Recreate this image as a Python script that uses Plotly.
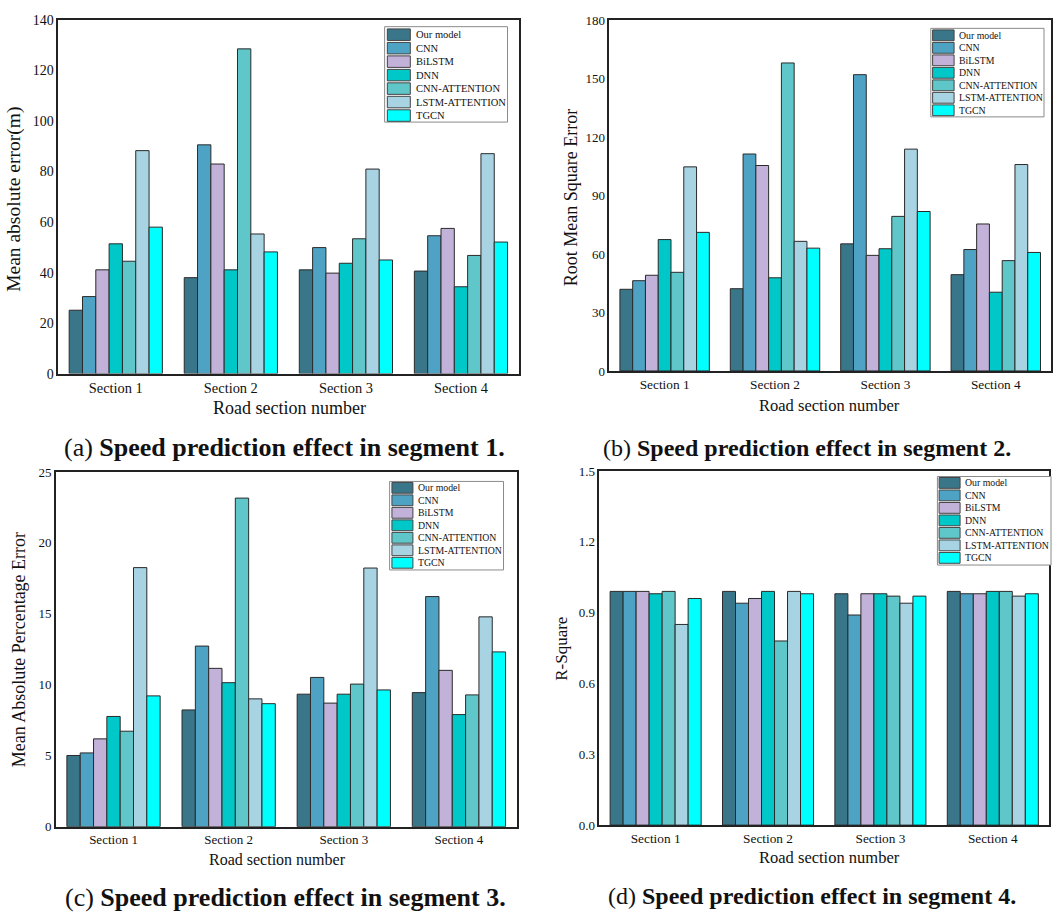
import plotly.graph_objects as go
from plotly.subplots import make_subplots

# ---------------- data ----------------
sections = ["Section 1", "Section 2", "Section 3", "Section 4"]
models = ["Our model", "CNN", "BiLSTM", "DNN", "CNN-ATTENTION", "LSTM-ATTENTION", "TGCN"]
colors = ["#3a7689", "#4ea3c5", "#c2b1d8", "#01c8c8", "#5fc7c9", "#a7d3e3", "#00ffff"]

# Mean absolute error (rows = models, cols = sections)
mae = [
    [25.1, 38.0, 41.1, 40.6],
    [30.5, 90.6, 49.9, 54.6],
    [41.1, 83.0, 39.8, 57.5],
    [51.4, 41.1, 43.7, 34.4],
    [44.5, 128.6, 53.4, 46.8],
    [88.3, 55.3, 81.0, 87.1],
    [58.0, 48.2, 45.0, 52.1],
]
# Root mean square error
rmse = [
    [41.9, 42.2, 65.2, 49.4],
    [46.3, 111.3, 152.0, 62.3],
    [49.1, 105.4, 59.3, 75.4],
    [67.4, 47.8, 62.7, 40.4],
    [50.6, 158.0, 79.3, 56.6],
    [104.7, 66.5, 113.8, 105.9],
    [71.1, 63.0, 81.8, 60.8],
]
# Mean absolute percentage error
mape = [
    [5.02, 8.23, 9.34, 9.45],
    [5.20, 12.73, 10.52, 16.22],
    [6.19, 11.16, 8.71, 11.02],
    [7.77, 10.15, 9.34, 7.90],
    [6.73, 23.16, 10.05, 9.29],
    [18.26, 9.01, 18.23, 14.79],
    [9.22, 8.67, 9.64, 12.32],
]
# R-Square
r2 = [
    [0.99, 0.99, 0.98, 0.99],
    [0.99, 0.94, 0.89, 0.98],
    [0.99, 0.96, 0.98, 0.98],
    [0.98, 0.99, 0.98, 0.99],
    [0.99, 0.78, 0.97, 0.99],
    [0.85, 0.99, 0.94, 0.97],
    [0.96, 0.98, 0.97, 0.98],
]

y_titles = ["Mean absolute error(m)", "Root Mean Square Error",
            "Mean Absolute Percentage Error", "R-Square"]
x_title = "Road section number"
captions = [("(a) ", "Speed prediction effect in segment 1."),
            ("(b) ", "Speed prediction effect in segment 2."),
            ("(c) ", "Speed prediction effect in segment 3."),
            ("(d) ", "Speed prediction effect in segment 4.")]
y_ranges = [(0, 140), (0, 180), (0, 25), (0, 1.5)]
y_dticks = [20, 30, 5, 0.3]
y_formats = ["", "", "", ".1f"]

# ---------------- layout helpers (pixel geometry) ----------------
W, H = 1053, 919
FONT = "Liberation Serif, Times New Roman, serif"


def fx(px):
    return px / W


def fy(py):
    return 1 - py / H


# plot areas: (left, top, right, bottom) in pixels
areas = [(58.3, 13.3, 519, 372.7), (610, 13.3, 1052, 370),
         (56, 472.7, 517, 833.3), (600, 471.7, 1050, 831.7)]
tick_sizes = [14, 13, 13, 13]
sec_sizes = [14.4, 13.3, 13, 13.3]
# y-title: (x, y, size)
ytitle_pos = [(14, 195, 19.5), (571, 194, 18), (19, 653, 18), (562, 652, 17)]
# x-title: (x, y, size)
xtitle_pos = [(290, 408, 18), (830, 405, 16.5), (277.5, 867, 16), (830, 865, 16.5)]
# caption: (x, y, size)
caption_pos = [(285, 448, 26), (808, 448, 24), (285.5, 905, 26), (812.5, 904, 24)]
# legend: (x0, y0, x1, y1, swatch_x0, swatch_w, first_row_top, pitch, swatch_h, text_x, font)
legends = [
    (385, 20, 508, 117, 387.7, 23, 22.3, 13.7, 11.7, 414, 10.5),
    (931.7, 21.7, 1045, 111.7, 933.5, 21.5, 23.3, 12.7, 11, 958, 9.8),
    (390, 482.3, 504, 572.3, 392.3, 21, 483.3, 12.7, 11, 416.7, 9.8),
    (938.3, 477.3, 1052, 567.3, 940, 21, 478.3, 12.7, 11, 964.3, 9.8),
]

datasets = [mae, rmse, mape, r2]

fig = make_subplots(rows=2, cols=2)

shapes = []
annotations = []

for p, data in enumerate(datasets):
    row, col = p // 2 + 1, p % 2 + 1
    for m, name in enumerate(models):
        fig.add_trace(go.Bar(
            x=sections, y=data[m], name=name,
            marker=dict(color=colors[m], line=dict(color="#2a2a2a", width=1)),
            showlegend=False,
        ), row=row, col=col)

    l, t, r, b = areas[p]
    sfx = "" if p == 0 else str(p + 1)
    fig.layout["xaxis" + sfx].update(
        domain=[fx(l), fx(r)], showline=True, linecolor="#222", linewidth=1.5,
        mirror=True, ticks="", showgrid=False, zeroline=False,
        tickfont=dict(family=FONT, size=sec_sizes[p], color="#111"),
    )
    fig.layout["yaxis" + sfx].update(
        domain=[fy(b), fy(t)], range=list(y_ranges[p]), dtick=y_dticks[p],
        tick0=0, tickformat=y_formats[p], showline=True, linecolor="#222",
        linewidth=1.5, mirror=True, ticks="", showgrid=False, zeroline=False,
        tickfont=dict(family=FONT, size=tick_sizes[p], color="#111"),
    )

    # axis titles
    yx, yy, ys = ytitle_pos[p]
    annotations.append(dict(x=fx(yx), y=fy(yy), xref="paper", yref="paper",
                            text=y_titles[p], textangle=-90, showarrow=False,
                            font=dict(family=FONT, size=ys, color="#111"),
                            xanchor="center", yanchor="middle"))
    xx, xy, xs = xtitle_pos[p]
    annotations.append(dict(x=fx(xx), y=fy(xy), xref="paper", yref="paper",
                            text=x_title, showarrow=False,
                            font=dict(family=FONT, size=xs, color="#111"),
                            xanchor="center", yanchor="middle"))
    cx, cy, cs = caption_pos[p]
    pre, bold = captions[p]
    annotations.append(dict(x=fx(cx), y=fy(cy), xref="paper", yref="paper",
                            text=pre + "<b>" + bold + "</b>", showarrow=False,
                            font=dict(family=FONT, size=cs, color="#111"),
                            xanchor="center", yanchor="middle"))

    # legend box
    (bx0, by0, bx1, by1, sx0, sw, r0, pitch, sh, tx, lf) = legends[p]
    shapes.append(dict(type="rect", xref="paper", yref="paper",
                       x0=fx(bx0), x1=fx(bx1), y0=fy(by1), y1=fy(by0),
                       line=dict(color="#8a8a8a", width=1), fillcolor="white",
                       layer="above"))
    for m, name in enumerate(models):
        top = r0 + m * pitch
        shapes.append(dict(type="rect", xref="paper", yref="paper",
                           x0=fx(sx0), x1=fx(sx0 + sw), y0=fy(top + sh), y1=fy(top),
                           line=dict(color="#444", width=1), fillcolor=colors[m],
                           layer="above"))
        annotations.append(dict(x=fx(tx), y=fy(top + sh / 2), xref="paper", yref="paper",
                                text=name, showarrow=False,
                                font=dict(family=FONT, size=lf, color="#111"),
                                xanchor="left", yanchor="middle"))

fig.update_layout(
    width=W, height=H, margin=dict(l=0, r=0, t=0, b=0),
    paper_bgcolor="white", plot_bgcolor="white",
    barmode="group", bargroupgap=0, bargap=0.19,
    shapes=shapes, annotations=annotations,
    showlegend=False,
)

fig.write_html("out.html")
